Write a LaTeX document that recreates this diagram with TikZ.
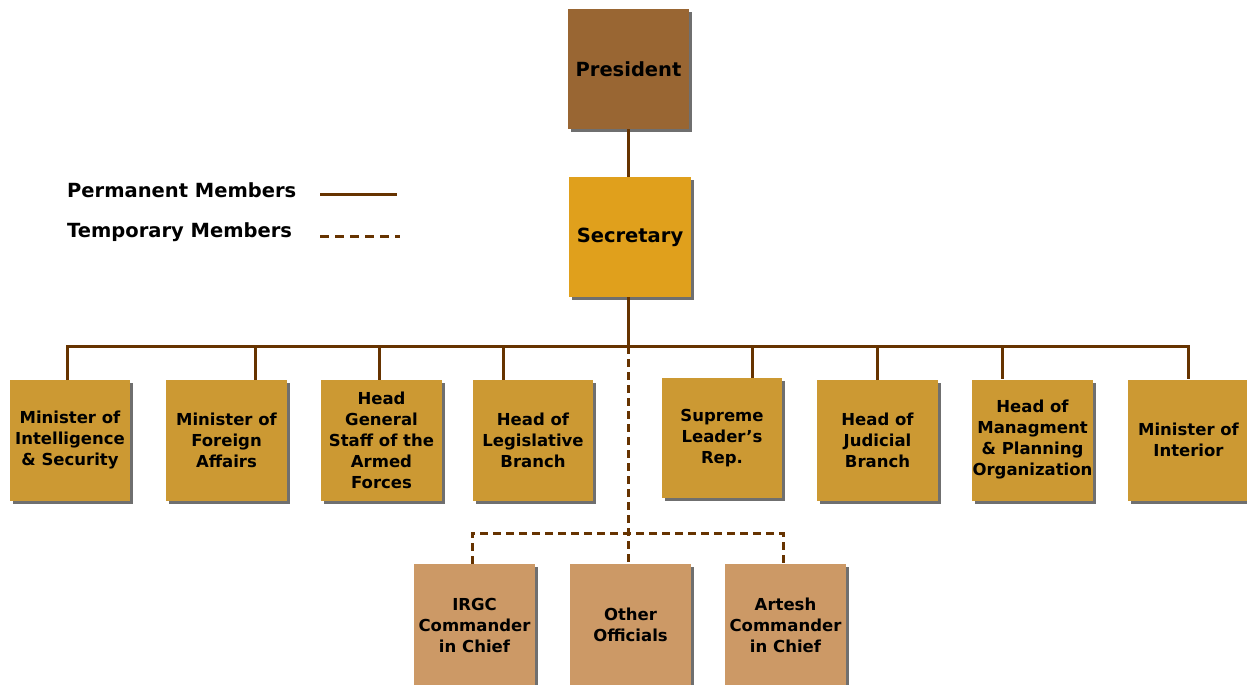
\documentclass[tikz,border=0pt]{standalone}
\usepackage{fontspec}
\setmainfont{DejaVu Sans}
\usetikzlibrary{shadows}
\definecolor{presc}{HTML}{996633}
\definecolor{secc}{HTML}{E0A01C}
\definecolor{memc}{HTML}{CC9933}
\definecolor{tmpc}{HTML}{CC9966}
\definecolor{linec}{HTML}{663300}
\begin{document}
\begin{tikzpicture}[x=1pt,y=-1pt,
  box/.style={draw=none, inner sep=0pt, align=center, text=black,
    font=\bfseries\fontsize{16.5}{21}\selectfont,
    minimum width=121pt, minimum height=121pt,
    drop shadow={shadow xshift=3pt, shadow yshift=-3pt, fill=black!75, opacity=0.75}},
  topbox/.style={box, font=\bfseries\fontsize{19.5}{23}\selectfont},
  perm/.style={draw=linec, line width=3pt},
  temp/.style={draw=linec, line width=3pt, dash pattern=on 8pt off 5pt},
  legend/.style={inner sep=0pt, anchor=west, font=\bfseries\fontsize{19.5}{23}\selectfont}]
\useasboundingbox[fill=white] (0,0) rectangle (1247,685);

% top boxes
\node[topbox, fill=presc, minimum height=120pt] (pres) at (628.5,69) {President};
\node[topbox, fill=secc, minimum width=122pt, minimum height=120pt] (sec) at (630,237) {Secretary};

% member boxes
\node[box, fill=memc, minimum width=120pt] (m1) at (70,440.5) {Minister of\\Intelligence\\\& Security};
\node[box, fill=memc] (m2) at (226.5,440.5) {Minister of\\Foreign\\Affairs};
\node[box, fill=memc] (m3) at (381.5,440.5) {Head\\General\\Staff of the\\Armed\\Forces};
\node[box, fill=memc, minimum width=120pt] (m4) at (533,440.5) {Head of\\Legislative\\Branch};
\node[box, fill=memc, minimum width=120pt, minimum height=120pt] (m5) at (722,438) {Supreme\\Leader's\\Rep.};
\node[box, fill=memc] (m6) at (877.5,440.5) {Head of\\Judicial\\Branch};
\node[box, fill=memc] (m7) at (1032.5,440) {Head of\\Managment\\\& Planning\\Organization};
\node[box, fill=memc] (m8) at (1188.5,440) {Minister of\\Interior};

% temporary boxes
\node[box, fill=tmpc, minimum height=122pt] (t1) at (474.5,625) {IRGC\\Commander\\in Chief};
\node[box, fill=tmpc, minimum height=122pt] (t2) at (630.5,625) {Other\\Officials};
\node[box, fill=tmpc, minimum height=122pt] (t3) at (785.5,625) {Artesh\\Commander\\in Chief};

% junction coordinates
\coordinate (jc) at (628,346);
\coordinate (j1) at (67,346);
\coordinate (j2) at (255,346);
\coordinate (j3) at (379,346);
\coordinate (j4) at (503,346);
\coordinate (j5) at (752,346);
\coordinate (j6) at (877,346);
\coordinate (j7) at (1002,346);
\coordinate (j8) at (1188,346);
\coordinate (dl) at (472,533);
\coordinate (dc) at (628,533);
\coordinate (dr) at (783,533);

% permanent connectors
\draw[perm] (jc |- pres.south) -- (jc |- sec.north);
\draw[perm] (jc |- sec.south) -- (jc);
\draw[perm, line join=miter] (j1 |- m1.north) -- (j1) -- (j8) -- (j8 |- m8.north);
\draw[perm] (j2) -- (j2 |- m2.north);
\draw[perm] (j3) -- (j3 |- m3.north);
\draw[perm] (j4) -- (j4 |- m4.north);
\draw[perm] (j5) -- (j5 |- m5.north);
\draw[perm] (j6) -- (j6 |- m6.north);
\draw[perm] (j7) -- (j7 |- m7.north);

% temporary connectors
\draw[temp] (jc) -- (dc |- t2.north);
\draw[temp] (dl |- t1.north) -- (dl) -- (dr) -- (dr |- t3.north);

% legend
\node[legend] (lperm) at (67,190) {Permanent Members};
\node[legend] (ltemp) at (67,232) {Temporary Members};
\coordinate (lp1) at (320,194);
\coordinate (lp2) at (397,194);
\coordinate (lt1) at (320,236);
\coordinate (lt2) at (400,236);
\draw[perm] (lp1) -- (lp2);
\draw[temp, dash pattern=on 9pt off 6pt] (lt1) -- (lt2);
\end{tikzpicture}
\end{document}
